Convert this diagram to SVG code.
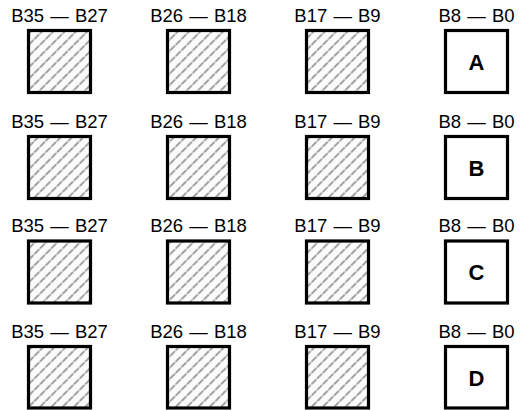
<svg xmlns="http://www.w3.org/2000/svg" width="520" height="410" viewBox="0 0 520 410">
<style>
.lbl{font-family:"Liberation Sans",Arial,sans-serif;font-size:18.5px;fill:#000;text-anchor:middle;word-spacing:1px}
.ltr{font-family:"Liberation Sans",Arial,sans-serif;font-size:22px;font-weight:bold;fill:#000;text-anchor:middle}
.box{stroke:#000;stroke-width:3.2}
.h{fill:url(#hatch)}
.w{fill:#fff}
</style>
<defs>
<pattern id="hatch" patternUnits="userSpaceOnUse" width="8" height="8" patternTransform="rotate(-45)">
<rect width="8" height="8" fill="#fbfbfb"/>
<line x1="0" y1="4" x2="8" y2="4" stroke="#a2a2a2" stroke-width="2.2" stroke-dasharray="3.5 1"/>
</pattern>
</defs>
<g id="labels">
<text class="lbl" x="59.5" y="21.5">B35 — B27</text>
<text class="lbl" x="198.5" y="21.5">B26 — B18</text>
<text class="lbl" x="337.5" y="21.5">B17 — B9</text>
<text class="lbl" x="476.5" y="21.5">B8 — B0</text>
<text class="lbl" x="59.5" y="127.5">B35 — B27</text>
<text class="lbl" x="198.5" y="127.5">B26 — B18</text>
<text class="lbl" x="337.5" y="127.5">B17 — B9</text>
<text class="lbl" x="476.5" y="127.5">B8 — B0</text>
<text class="lbl" x="59.5" y="232">B35 — B27</text>
<text class="lbl" x="198.5" y="232">B26 — B18</text>
<text class="lbl" x="337.5" y="232">B17 — B9</text>
<text class="lbl" x="476.5" y="232">B8 — B0</text>
<text class="lbl" x="59.5" y="337.5">B35 — B27</text>
<text class="lbl" x="198.5" y="337.5">B26 — B18</text>
<text class="lbl" x="337.5" y="337.5">B17 — B9</text>
<text class="lbl" x="476.5" y="337.5">B8 — B0</text>
</g>
<g id="row-A">
<rect id="A1" class="box h" x="28.5" y="30.5" width="62" height="62"/>
<rect id="A2" class="box h" x="167.5" y="30.5" width="62" height="62"/>
<rect id="A3" class="box h" x="306.5" y="30.5" width="62" height="62"/>
<g id="A"><rect class="box w" x="445.5" y="30.5" width="62" height="62"/><text class="ltr" x="476.5" y="69.5">A</text></g>
</g>
<g id="row-B">
<rect id="B1" class="box h" x="28.5" y="136.5" width="62" height="62"/>
<rect id="B2" class="box h" x="167.5" y="136.5" width="62" height="62"/>
<rect id="B3" class="box h" x="306.5" y="136.5" width="62" height="62"/>
<g id="B"><rect class="box w" x="445.5" y="136.5" width="62" height="62"/><text class="ltr" x="476.5" y="175.5">B</text></g>
</g>
<g id="row-C">
<rect id="C1" class="box h" x="28.5" y="241" width="62" height="62"/>
<rect id="C2" class="box h" x="167.5" y="241" width="62" height="62"/>
<rect id="C3" class="box h" x="306.5" y="241" width="62" height="62"/>
<g id="C"><rect class="box w" x="445.5" y="241" width="62" height="62"/><text class="ltr" x="476.5" y="280">C</text></g>
</g>
<g id="row-D">
<rect id="D1" class="box h" x="28.5" y="346.5" width="62" height="61.5"/>
<rect id="D2" class="box h" x="167.5" y="346.5" width="62" height="61.5"/>
<rect id="D3" class="box h" x="306.5" y="346.5" width="62" height="61.5"/>
<g id="D"><rect class="box w" x="445.5" y="346.5" width="62" height="61.5"/><text class="ltr" x="476.5" y="385.5">D</text></g>
</g>
<g id="connectors"/>
</svg>
